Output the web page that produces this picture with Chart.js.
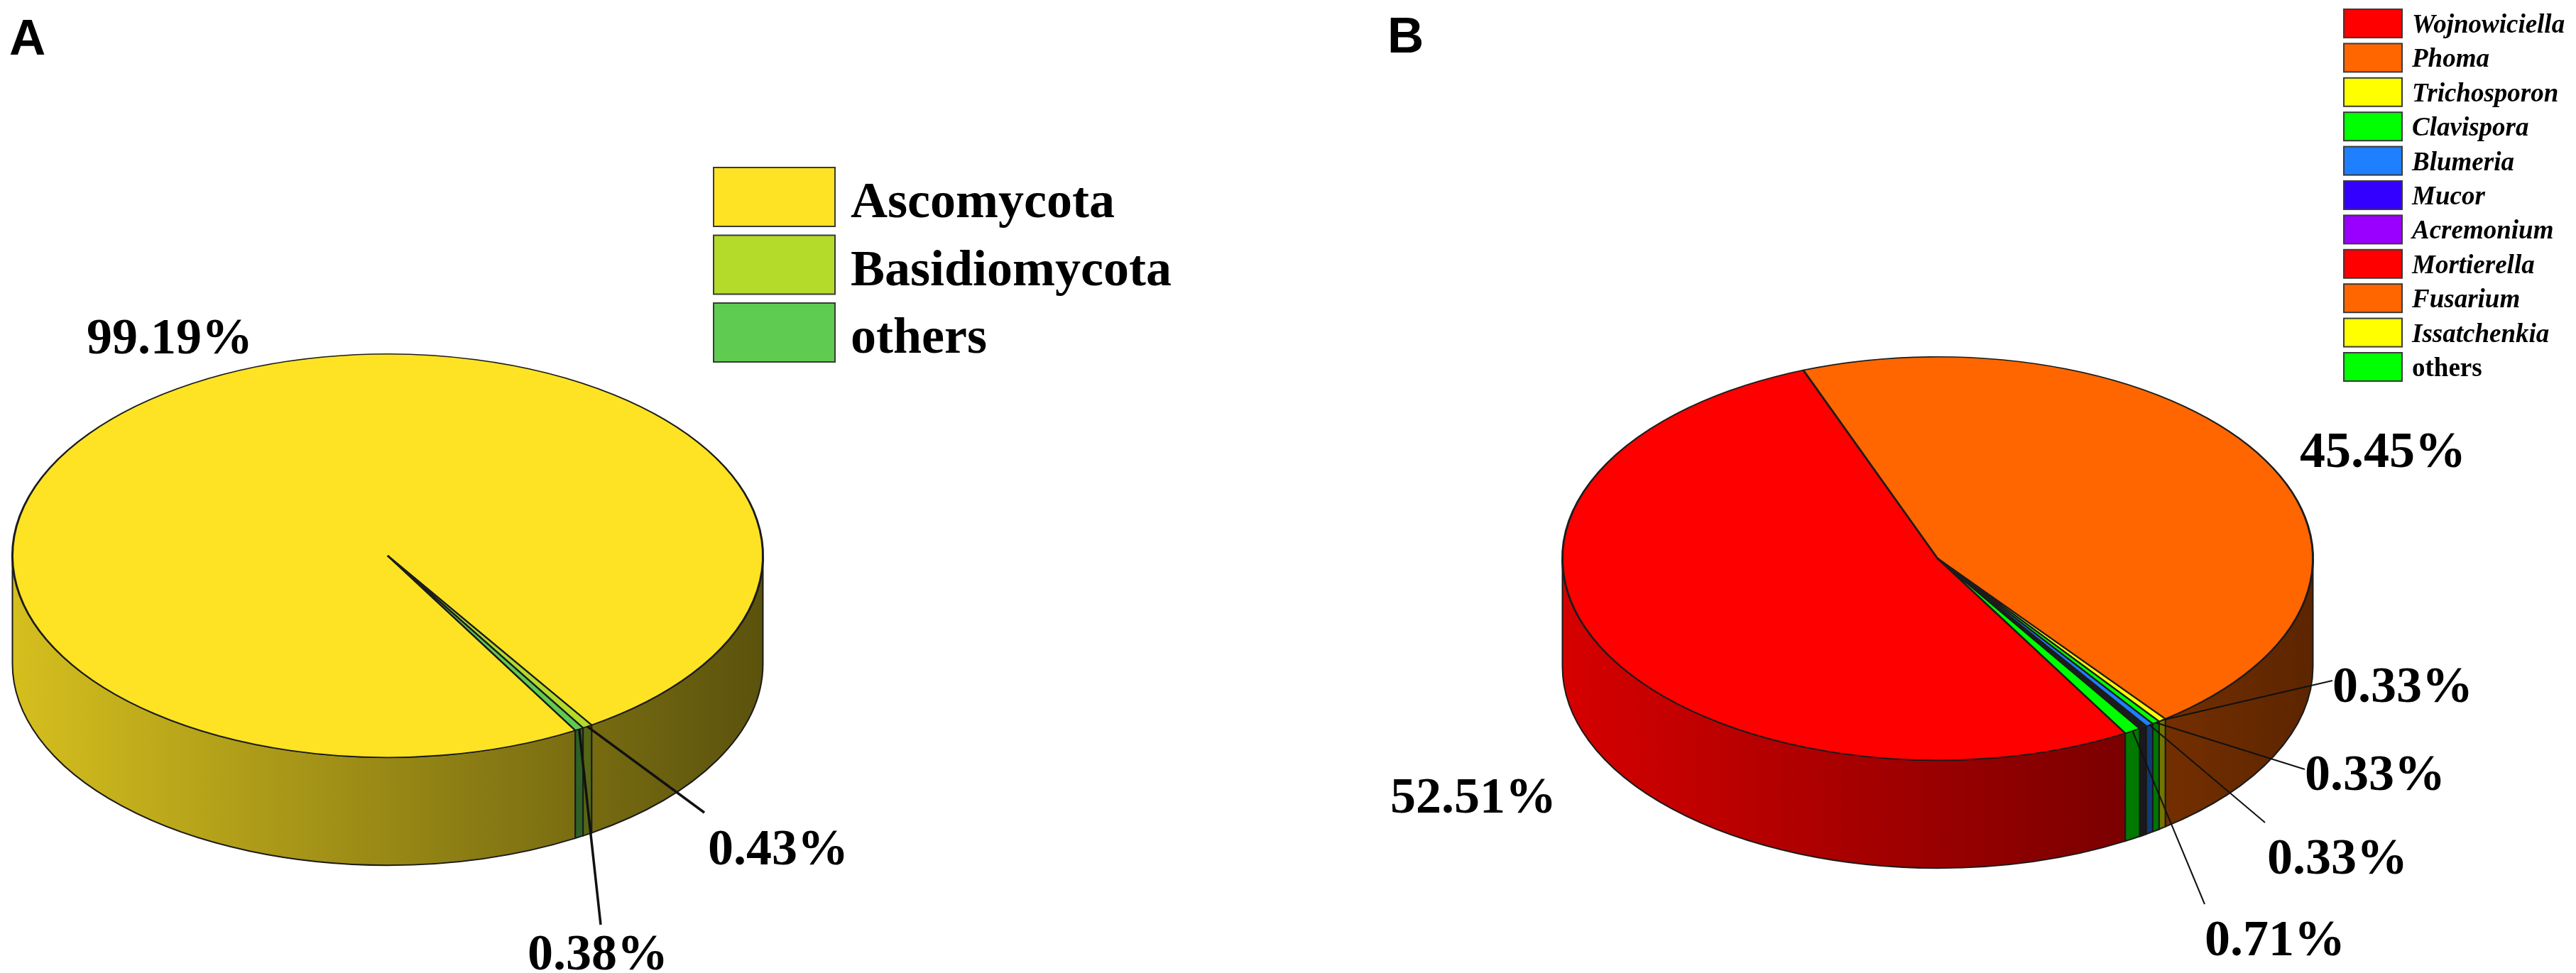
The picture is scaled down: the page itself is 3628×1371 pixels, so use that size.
<!DOCTYPE html>
<html>
<head>
<meta charset="utf-8">
<script src="https://cdn.jsdelivr.net/npm/chart.js@4.4.1/dist/chart.umd.min.js"></script>
<style>
  html, body { margin: 0; padding: 0; background: #fff; }
  #wrap { position: relative; width: 3628px; height: 1371px; }
  canvas { position: absolute; top: 0; }
</style>
</head>
<body>
<div id="wrap">
  <canvas id="chartA" width="1814" height="1371" style="left:0"></canvas>
  <canvas id="chartB" width="1814" height="1371" style="left:1814px"></canvas>
</div>
<script>
// A: phylum level
const phylumLabels = ['Ascomycota', 'Basidiomycota', 'others'];
const phylumValues = [99.19, 0.43, 0.38];
const phylumColors = ['#FDE324', '#B4DA2A', '#5FCB50'];

// B: genus level
const genusLabels = ['Wojnowiciella', 'Phoma', 'Trichosporon', 'Clavispora', 'Blumeria',
  'Mucor', 'Acremonium', 'Mortierella', 'Fusarium', 'Issatchenkia', 'others'];
const genusValues = [52.51, 45.45, 0.33, 0.33, 0.33, 0.10, 0.08, 0.06, 0.05, 0.05, 0.71];
const genusColors = ['#FF0000', '#FF6600', '#FFFF00', '#00FF00', '#1E7FFF',
  '#3300FF', '#9900FF', '#FF0000', '#FF6600', '#FFFF00', '#00FF00'];

// tilt of the pie (ry / rx) and height of the rim
const SQUASH = 285 / 530;
const DEPTH = 152;

function shade(hex, f) {
  const n = parseInt(hex.slice(1), 16);
  const r = Math.round(((n >> 16) & 255) * f);
  const g = Math.round(((n >> 8) & 255) * f);
  const b = Math.round((n & 255) * f);
  return `rgb(${r},${g},${b})`;
}

// draws the rim under the slices, then squashes the slices into an ellipse
const pie3d = {
  id: 'pie3d',
  beforeDatasetsDraw(chart) {
    const ctx = chart.ctx;
    const arcs = chart.getDatasetMeta(0).data;
    const colors = chart.data.datasets[0].backgroundColor;
    const cx = arcs[0].x, cy = arcs[0].y, r = arcs[0].outerRadius;
    const ry = r * SQUASH;
    arcs.forEach((arc, i) => {
      for (let turn = -1; turn <= 1; turn++) {
        const off = turn * 2 * Math.PI;
        const a0 = Math.max(arc.startAngle + off, 0);
        const a1 = Math.min(arc.endAngle + off, Math.PI);
        if (a1 <= a0) continue;
        const g = ctx.createLinearGradient(cx - r, 0, cx + r, 0);
        g.addColorStop(0, shade(colors[i], 0.84));
        g.addColorStop(1, shade(colors[i], 0.36));
        ctx.beginPath();
        ctx.ellipse(cx, cy, r, ry, 0, a0, a1, false);
        ctx.lineTo(cx + r * Math.cos(a1), cy + ry * Math.sin(a1) + DEPTH);
        ctx.ellipse(cx, cy + DEPTH, r, ry, 0, a1, a0, true);
        ctx.closePath();
        ctx.fillStyle = g;
        ctx.fill();
        ctx.lineWidth = 2;
        ctx.strokeStyle = '#1a1a1a';
        ctx.stroke();
      }
    });
    ctx.save();
    ctx.translate(0, cy);
    ctx.scale(1, SQUASH);
    ctx.translate(0, -cy);
  },
  afterDatasetsDraw(chart) {
    chart.ctx.restore();
  }
};

// panel letter, legend, percentages and leader lines
const annot = {
  id: 'annot',
  afterDraw(chart, args, opts) {
    const ctx = chart.ctx;
    const arcs = chart.getDatasetMeta(0).data;
    const ds = chart.data.datasets[0];
    const cx = arcs[0].x, cy = arcs[0].y, r = arcs[0].outerRadius;
    ctx.save();
    ctx.textBaseline = 'alphabetic';
    ctx.textAlign = 'left';
    ctx.fillStyle = '#000';
    ctx.font = 'bold 71px "Liberation Sans", Arial, sans-serif';
    ctx.fillText(opts.letter, opts.letterX, opts.letterY);

    const lg = opts.legend;
    chart.data.labels.forEach((t, i) => {
      const y = lg.y + i * lg.step;
      ctx.fillStyle = ds.backgroundColor[i];
      ctx.fillRect(lg.x, y, lg.w, lg.h);
      ctx.strokeStyle = '#3a3a3a';
      ctx.lineWidth = 2;
      ctx.strokeRect(lg.x, y, lg.w, lg.h);
      ctx.fillStyle = '#000';
      const it = lg.italic && t !== 'others' ? 'italic ' : '';
      ctx.font = `${it}bold ${lg.font}px "Liberation Serif", "Times New Roman", serif`;
      ctx.fillText(t, lg.tx, y + lg.base);
    });

    ctx.font = `bold ${opts.pctFont}px "Liberation Serif", "Times New Roman", serif`;
    opts.pcts.forEach(p => {
      const arc = arcs[p.i];
      if (p.lx !== undefined) {
        const mid = (arc.startAngle + arc.endAngle) / 2;
        ctx.beginPath();
        ctx.moveTo(cx + r * Math.cos(mid), cy + r * SQUASH * Math.sin(mid));
        ctx.lineTo(p.lx, p.ly);
        ctx.lineWidth = opts.leaderWidth;
        ctx.strokeStyle = '#111';
        ctx.stroke();
      }
      ctx.fillStyle = '#000';
      ctx.fillText(ds.data[p.i].toFixed(2) + '%', p.x, p.y);
    });
    ctx.restore();
  }
};

function buildChart(id, labels, values, colors, pad, extra) {
  return new Chart(document.getElementById(id), {
    type: 'pie',
    data: {
      labels: labels,
      datasets: [{
        data: values,
        backgroundColor: colors,
        borderColor: '#1c1c1c',
        borderWidth: 3,
        hoverOffset: 0,
        offset: 0,
        clip: false
      }]
    },
    options: {
      responsive: false,
      animation: false,
      devicePixelRatio: 1,
      events: [],
      rotation: 150,
      layout: { padding: pad },
      plugins: {
        legend: { display: false },
        tooltip: { enabled: false },
        annot: extra
      }
    },
    plugins: [pie3d, annot]
  });
}

buildChart('chartA', phylumLabels, phylumValues, phylumColors,
  { left: 16, right: 738, top: 253, bottom: 58 },
  {
    letter: 'A', letterX: 13, letterY: 77,
    legend: { x: 1005, y: 236, w: 171, h: 83, step: 95.5, tx: 1198, base: 70, font: 72, italic: false },
    pctFont: 72, leaderWidth: 3.5,
    pcts: [
      { i: 0, x: 122, y: 498 },
      { i: 1, x: 997, y: 1218, lx: 992, ly: 1145 },
      { i: 2, x: 743, y: 1366, lx: 846, ly: 1303 }
    ]
  });

buildChart('chartB', genusLabels, genusValues, genusColors,
  { left: 385, right: 369, top: 257, bottom: 54 },
  {
    letter: 'B', letterX: 140, letterY: 74,
    legend: { x: 1487, y: 13, w: 82, h: 40, step: 48.4, tx: 1583, base: 33, font: 37, italic: true },
    pctFont: 72, leaderWidth: 2,
    pcts: [
      { i: 0, x: 144, y: 1145 },
      { i: 1, x: 1425, y: 658 },
      { i: 2, x: 1471, y: 989, lx: 1471, ly: 959 },
      { i: 3, x: 1432, y: 1113, lx: 1432, ly: 1084 },
      { i: 4, x: 1379, y: 1231, lx: 1376, ly: 1159 },
      { i: 10, x: 1291, y: 1346, lx: 1291, ly: 1274 }
    ]
  });
</script>
</body>
</html>
